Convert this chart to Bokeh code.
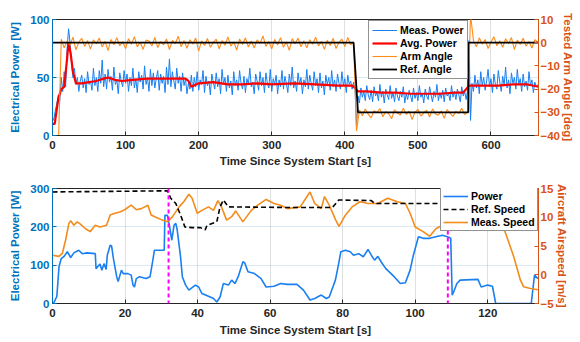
from bokeh.plotting import figure
from bokeh.models import Range1d, LinearAxis, Span, Legend, LegendItem
from bokeh.layouts import column
from bokeh.embed import file_html
from bokeh.resources import INLINE
import numpy as np

# ---------------- Top panel data ----------------
meas_step = 2  # s between samples of measured power
meas_power = [
    12, 15, 22, 28, 35, 30, 50, 38, 55, 42, 75, 92, 80, 62, 50, 58, 44, 50, 38, 47,
    52, 41, 49, 37, 55, 44, 47, 39, 58, 43,
    50, 38, 56, 45, 65, 42, 53, 40, 57, 46,
    51, 39, 59, 44, 48, 36, 54, 47, 42, 56,
    45, 53, 38, 50, 43, 58, 41, 49, 37, 55,
    46, 52, 40, 60, 44, 50, 38, 57, 43, 54,
    41, 49, 56, 39, 53, 45, 51, 37, 59, 44,
    66, 42, 55, 47, 40, 58, 45, 51, 38, 54,
    43, 49, 36, 45, 40, 52, 38, 50, 42, 55,
    39, 48, 44, 56, 37, 51, 43, 47, 35, 53,
    46, 40, 54, 42, 49, 36, 57, 44, 50, 38,
    52, 41, 47, 35, 55, 43, 48, 39, 56, 45,
    40, 51, 37, 49, 44, 58, 42, 46, 36, 53,
    47, 39, 55, 43, 50, 37, 54, 45, 41, 57,
    38, 49, 44, 52, 36, 48, 42, 56, 40, 51,
    45, 37, 53, 43, 59, 41, 47, 38, 54, 44,
    50, 36, 48, 42, 57, 40, 52, 45, 39, 55,
    43, 49, 37, 54, 41, 47, 35, 52, 44, 50,
    39, 56, 42, 48, 38, 53, 45, 40, 55, 43,
    49, 37, 52, 44, 47, 40, 46,
    40, 6, 34, 28, 41, 33, 38, 30, 43, 35,
    31, 39, 29, 42, 34, 37, 30, 44, 33, 38,
    28, 40, 35, 31, 43, 32, 37, 29, 41, 34,
    30, 38, 33, 42, 28, 36, 31, 39, 34, 29,
    41, 32, 37, 30, 43, 33, 36, 28, 40, 34,
    31, 42, 35, 29, 38, 33, 44, 30, 37, 32,
    39, 29, 41, 34, 36, 30, 43, 33, 38, 31,
    40, 35, 29, 42, 34, 38, 31, 39,
    82, 13,
    45, 38, 52, 41, 48, 36, 55, 43, 50, 39,
    47, 57, 42, 49, 37, 53, 44, 40, 56, 46,
    38, 51, 43, 59, 41, 48, 36, 54, 45, 50,
    40, 57, 44, 49, 38, 53, 42, 47, 39, 55,
    43, 48, 37, 46, 42, 44,
]

avg_time = [0, 3, 8, 12, 16, 19, 22, 25, 28, 32, 40, 50, 60, 70, 76, 85, 95,
            110, 130, 150, 170, 182, 186, 190, 200, 220, 240, 260, 280, 300,
            330, 360, 390, 410, 414, 418, 430, 450, 470, 490, 510, 530, 550,
            562, 566, 570, 590, 610, 630, 650, 665]
avg_power = [10, 10, 32, 40, 42, 60, 80, 70, 55, 45, 45, 46, 47, 49, 50, 48,
             47, 48, 49, 49, 49, 49, 47, 42, 45, 46, 44, 44, 45, 44, 45, 44,
             43, 43, 41, 38, 38, 37, 37, 36, 36, 36, 37, 37, 40, 43, 43, 43,
             44, 44, 42]

arm_start = 8  # s, first arm-angle sample
arm_step = 4
arm_angle = [
    -45,
    1.5, -2.2, 0.8, -1.0, 2.4, -3.1, 0.3, 1.9, -1.6, 0.9,
    -2.8, 1.2, -0.5, 2.0, -1.9, 0.6, -3.4, 1.4, -0.9, 2.2,
    -1.3, 0.4, -2.5, 1.7, -0.7, 2.6, -1.8, 0.2, -2.9, 1.1,
    0.7, -1.4, 2.3, -2.1, 0.5, -0.9, 1.6, -3.0, 1.0, -0.4,
    2.8, -1.7, 0.9, -2.4, 1.3, -0.6, 2.0, -3.6, 0.8, -1.2,
    1.8, -2.0, 0.1, 1.5, -2.7, 0.9, -1.1, 2.5, -1.5, 0.4,
    -3.2, 1.6, -0.8, 2.1, -1.9, 0.7, -2.3, 1.2, -0.3, 2.9,
    -1.6, 0.5, -2.6, 1.4, -1.0, 2.2, -2.0, 0.3, -3.3, 1.7,
    -0.5, 2.0, -1.8, 0.8, -2.2, 1.3, -0.7, 2.4, -1.4, 0.6,
    -2.9, 1.0, -1.2, 1.9, -2.5, 0.2, 1.5, -1.7, 2.3, -0.9,
    0.4,
    -38,
    -29.0, -31.5, -28.6, -30.8, -32.4, -29.3, -30.1, -28.4, -31.9, -29.7,
    -30.6, -32.8, -28.9, -30.3, -31.2, -28.2, -30.9, -29.5, -33.1, -29.9,
    -28.7, -31.6, -30.2, -29.1, -32.0, -28.5, -30.7, -31.3, -29.4, -32.6,
    -28.8, -30.4, -31.8, -29.6, -30.5, -28.3, -31.0, -29.8,
    12,
    0.9, -1.8, 2.1, -0.6, 1.4, -2.5, 0.3, 2.6, -1.3, 0.8,
    -2.0, 1.7, -0.4, 2.2, -3.0, 1.1, -0.8, 1.9, -1.5, 0.5,
    -2.3, 1.3, 0.2,
]

ref_angle_time = [0, 412, 418, 569, 569, 665]
ref_angle = [0, 0, -30, -30, 0, 0]

# ---------------- Bottom panel data ----------------
power_time = [0, 0.5, 1.2, 1.8, 2.4, 3.2, 4.1, 5, 5.9, 7.2, 8.2, 9.5, 11.8, 12,
              13.1, 13.6, 14.2, 14.8, 15.1, 15.9, 16.3, 16.8, 17.7, 18.1, 19,
              19.5, 20.8, 21.7, 22.2, 22.6, 23.1, 24, 25.8, 26.9, 27.6, 28.1,
              30.8, 31, 31.7, 32.3, 32.9, 33.5, 34, 34.4, 35.3, 35.8, 36.7,
              37.6, 39.4, 40.3, 41.2, 43, 44.4, 45.3, 46.2, 47.1, 48.5, 49.4,
              50.3, 51.2, 52.5, 53, 53.9, 55.7, 57.5, 58.9, 61.1, 62.9, 64.8,
              67.4, 69.2, 71, 72.3, 74.1, 75.5, 76.3, 78, 78.9, 79.5, 80.8,
              82.1, 83, 84.4, 85.7, 87, 87.9, 88.8, 89.7, 90.6, 91.9, 94.2,
              95.9, 97.3, 98.6, 99.5, 100.9, 102.2, 104, 105.7, 107.5, 108.9,
              109.8, 110.2, 110.6, 111.5, 112.4, 117.3, 118.2, 120, 121.3,
              122.2, 132, 132.9, 133.8]
power_w = [0, 4, 19, 96, 117, 123, 135, 120, 132, 139, 130, 132, 130, 91,
           103, 87, 104, 89, 126, 152, 150, 117, 70, 57, 87,
           78, 78, 74, 48, 43, 65, 70, 65, 70, 109, 139,
           139, 230, 230, 200, 165, 204, 209, 191, 122, 70, 48,
           35, 48, 43, 26, 19, 13, 4, 17, 52, 48, 61,
           52, 70, 109, 106, 83, 78, 65, 43, 45, 52, 50,
           50, 35, 9, 13, 22, 13, 17, 61, 104, 135, 139,
           135, 126, 130, 122, 141, 126, 113, 123, 109, 91, 70,
           52, 54, 87, 126, 174, 170, 170, 174, 178, 174,
           170, 22, 30, 52, 61, 63, 43, 48, 45,
           0, 0, 74, 65]

speed_time = [0, 1.8, 2.7, 3.6, 4.5, 5, 5.9, 6.8, 7.7, 9.1, 10.4, 11.8, 13.1,
              14.9, 15.9, 17.2, 18.6, 19.9, 21.7, 23.1, 24.5, 26.3, 27.2,
              28.5, 30.3, 31.7, 33.1, 34.9, 36.2, 37.6, 38.5, 39.9, 41.2, 43,
              44.4, 45.6, 46.6, 48, 49.4, 50.5, 52.5, 54.8, 56.6, 58.9, 61.1,
              62.9, 64.8, 68.3, 71, 72.3, 74.1, 75, 76.3, 78.1, 79, 80.8,
              82.6, 84.8, 87, 89.7, 92.4, 95.1, 97.3, 98.6, 100, 102.2, 104,
              105.7, 107.5, 108.9, 111, 113, 115, 116.9, 118.2, 120, 122.8,
              124.6, 127.2, 129, 129.9, 131.8, 133.8]
speed_ms = [3.4, 3.2, 3.7, 6.0, 8.9, 9.4, 8.6, 9.2, 8.8, 8.0, 7.5, 8.6, 8.3,
            8.6, 10.4, 10.7, 10.9, 11.3, 12.1, 11.3, 11.5, 12.1, 10.4,
            10.0, 9.5, 9.2, 10.1, 11.8, 12.7, 14.0, 13.3, 10.7, 11.2, 11.8,
            11.2, 12.9, 11.8, 9.5, 10.1, 11.1, 9.2, 11.2, 12.1, 13.1, 12.4,
            12.1, 11.5, 11.8, 14.4, 12.4, 11.5, 13.6, 12.1, 9.5, 8.4, 10.4,
            11.8, 12.7, 12.4, 12.4, 13.3, 12.7, 12.4, 10.7, 8.3, 7.5, 6.7,
            8.0, 8.6, 9.5, 11.0, 12.5, 12.0, 10.1, 8.0, 9.5, 8.9,
            7.8, 3.1, -0.9, -2.1, -2.4, -2.6]

ref_speed_time = [0, 31.7, 32.6, 34, 35.3, 36.5, 38.5, 40.8, 42.1, 42.6, 45.3,
                  46.2, 47.1, 48.5, 64.8, 77.2, 78.9, 87.9, 88.8, 108.4]
ref_speed = [14.4, 14.6, 13.3, 12.4, 10.4, 8.3, 8.2, 8.2, 7.8, 8.6, 9.2,
             11.8, 13.0, 11.8, 11.7, 11.7, 13.0, 12.9, 12.4, 12.4]

event_times = [32, 109]

# ---------------- Styling ----------------
FONT = "Liberation Sans"
FS = "11.5px"
BLUE_AX = "#0072BD"
ORANGE_AX = "#D95319"
DARK = "#262626"
W = 580


def style_axis(ax, color):
    ax.axis_line_color = color
    ax.major_tick_line_color = color
    ax.major_tick_in = 4
    ax.major_tick_out = 0
    ax.minor_tick_line_color = None
    ax.major_label_text_color = color
    ax.major_label_text_font = FONT
    ax.major_label_text_font_size = FS
    ax.major_label_text_font_style = "bold"
    ax.axis_label_text_color = color
    ax.axis_label_text_font = FONT
    ax.axis_label_text_font_size = FS
    ax.axis_label_text_font_style = "bold"


def make_fig(height, top, bottom, xmax, ymax):
    p = figure(width=W, height=height, x_range=Range1d(0, xmax),
               y_range=Range1d(0, ymax), output_backend="svg",
               toolbar_location=None, min_border_left=52,
               min_border_right=42, min_border_top=top,
               min_border_bottom=bottom)
    p.outline_line_color = DARK
    p.outline_line_alpha = 1
    p.xgrid.grid_line_color = DARK
    p.xgrid.grid_line_alpha = 0.15
    p.ygrid.grid_line_color = BLUE_AX
    p.ygrid.grid_line_alpha = 0.15
    p.background_fill_color = "white"
    return p


# ---------------- Top figure ----------------
p1 = make_fig(170, 19, 35, 665, 100)
p1.extra_y_ranges = {"ang": Range1d(-40, 10)}
ax_r1 = LinearAxis(y_range_name="ang", axis_label="Tested Arm Angle [deg]")
p1.add_layout(ax_r1, "right")

meas_time = np.arange(len(meas_power)) * meas_step
arm_time = arm_start + np.arange(len(arm_angle)) * arm_step

r_meas = p1.line(meas_time, meas_power, line_color="#1a7ff0", line_width=1)
r_avg = p1.line(avg_time, avg_power, line_color="#ff0000", line_width=2.2)
r_arm = p1.line(arm_time, arm_angle, line_color="#ff8c1a", line_width=1.1,
                y_range_name="ang")
r_ref = p1.line(ref_angle_time, ref_angle, line_color="black", line_width=1.8,
                y_range_name="ang")

p1.xaxis.axis_label = "Time Since System Start [s]"
p1.xaxis.ticker = [0, 100, 200, 300, 400, 500, 600]
p1.yaxis[0].axis_label = "Electrical Power [W]"
p1.yaxis[0].ticker = [0, 50, 100]
ax_r1.ticker = [-40, -30, -20, -10, 0, 10]
style_axis(p1.xaxis[0], DARK)
style_axis(p1.yaxis[0], BLUE_AX)
style_axis(ax_r1, ORANGE_AX)
p1.xaxis[0].major_label_standoff = 5
p1.xaxis[0].axis_label_standoff = 3
p1.yaxis[0].major_label_standoff = 3
p1.yaxis[0].axis_label_standoff = 6
ax_r1.major_label_standoff = 2
ax_r1.axis_label_standoff = -1

leg1 = Legend(items=[LegendItem(label="Meas. Power", renderers=[r_meas]),
                     LegendItem(label="Avg. Power", renderers=[r_avg]),
                     LegendItem(label="Arm Angle", renderers=[r_arm]),
                     LegendItem(label="Ref. Angle", renderers=[r_ref])],
              location=(316, 56))

# ---------------- Bottom figure ----------------
p2 = make_fig(172, 18, 39, 134, 300)
p2.extra_y_ranges = {"spd": Range1d(-5, 15)}
ax_r2 = LinearAxis(y_range_name="spd", axis_label="Aircraft Airspeed [m/s]")
p2.add_layout(ax_r2, "right")

r_pow = p2.line(power_time, power_w, line_color="#1a7ff0", line_width=1.6)
r_spd = p2.line(speed_time, speed_ms, line_color="#f28c1c", line_width=1.6,
                y_range_name="spd")
r_rspd = p2.line(ref_speed_time, ref_speed, line_color="black", line_width=1.6,
                 line_dash="5 3", y_range_name="spd")
for t in event_times:
    p2.add_layout(Span(location=t, dimension="height", line_color="#ff00ff",
                       line_width=2, line_dash="4 3"))

p2.xaxis.axis_label = "Time Since System Start [s]"
p2.xaxis.ticker = [0, 20, 40, 60, 80, 100, 120]
p2.yaxis[0].axis_label = "Electrical Power [W]"
p2.yaxis[0].ticker = [0, 100, 200, 300]
ax_r2.ticker = [-5, 0, 5, 10, 15]
style_axis(p2.xaxis[0], DARK)
style_axis(p2.yaxis[0], BLUE_AX)
style_axis(ax_r2, ORANGE_AX)
p2.xaxis[0].major_label_standoff = 5
p2.xaxis[0].axis_label_standoff = 4
p2.yaxis[0].major_label_standoff = 3
p2.yaxis[0].axis_label_standoff = 6
ax_r2.major_label_standoff = 2
ax_r2.axis_label_standoff = -1

leg2 = Legend(items=[LegendItem(label="Power", renderers=[r_pow]),
                     LegendItem(label="Ref. Speed", renderers=[r_rspd]),
                     LegendItem(label="Meas. Speed", renderers=[r_spd])],
              location=(388, 72))

for lg, pad in ((leg1, 3), (leg2, 2)):
    lg.label_text_font = FONT
    lg.label_text_font_size = "10.5px"
    lg.label_text_font_style = "bold"
    lg.label_text_color = "black"
    lg.glyph_width = 25
    lg.glyph_height = 12
    lg.label_height = 12
    lg.label_standoff = 3
    lg.spacing = 1
    lg.padding = pad
    lg.margin = 0
    lg.border_line_color = DARK
    lg.border_line_width = 1
    lg.background_fill_color = "white"
    lg.background_fill_alpha = 1

p1.add_layout(leg1)
p2.add_layout(leg2)

layout = column(p1, p2, spacing=0)
open("out.html", "w").write(file_html(layout, INLINE))
